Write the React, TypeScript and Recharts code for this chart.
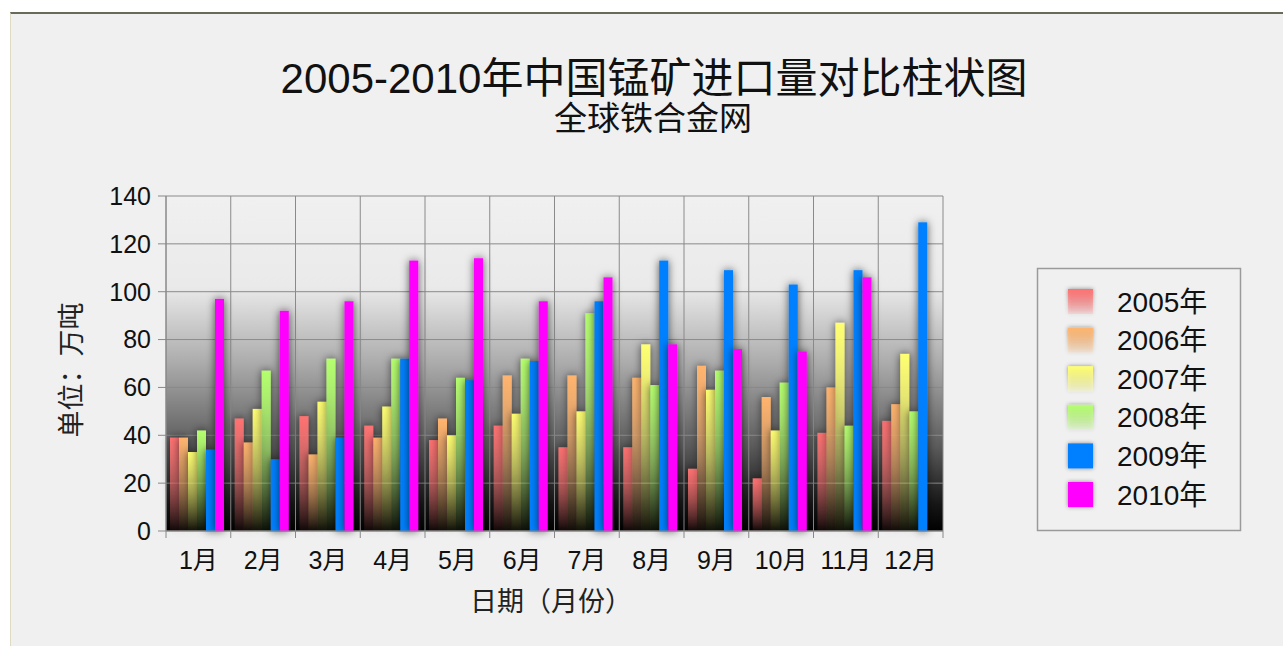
import React from 'react';
import { BarChart, Bar, XAxis, YAxis, CartesianGrid } from 'recharts';

const months = ['1月', '2月', '3月', '4月', '5月', '6月', '7月', '8月', '9月', '10月', '11月', '12月'];
const years = ['2005年', '2006年', '2007年', '2008年', '2009年', '2010年'];
const colors = ['#ff7272', '#ffb46e', '#ffff72', '#b4ff6e', '#0080ff', '#ff00ff'];
const gradientSeries = [true, true, true, true, false, false];
const s2005 = [39, 47, 48, 44, 38, 44, 35, 35, 26, 22, 41, 46];
const s2006 = [39, 37, 32, 39, 47, 65, 65, 64, 69, 56, 60, 53];
const s2007 = [33, 51, 54, 52, 40, 49, 50, 78, 59, 42, 87, 74];
const s2008 = [42, 67, 72, 72, 64, 72, 91, 61, 67, 62, 44, 50];
const s2009 = [34, 30, 39, 72, 63, 71, 96, 113, 109, 103, 109, 129];
const s2010 = [97, 92, 96, 113, 114, 96, 106, 78, 76, 75, 106, null];
const yTicks = [0, 20, 40, 60, 80, 100, 120, 140];

const seriesValues = [s2005, s2006, s2007, s2008, s2009, s2010];
const keys = ['y2005', 'y2006', 'y2007', 'y2008', 'y2009', 'y2010'];

const data = months.map((m, i) => {
  const row: any = { month: m };
  keys.forEach((k, j) => {
    row[k] = seriesValues[j][i];
  });
  return row;
});

const FONT = '"Liberation Sans", Arial, "Noto Sans CJK SC", sans-serif';

const BarShape = (props: any) => {
  const { x, y, width, height, fill } = props;
  if (!height || height <= 0) return null;
  return <rect x={x} y={y} width={width} height={height} fill={fill} filter="url(#barShadow)" />;
};

const MonthTick = (props: any) => {
  const { x, y, payload, index } = props;
  const half = payload && typeof payload.offset === 'number' ? payload.offset : 0;
  return (
    <g>
      {half > 0 && <line x1={x - half} y1={y - 20} x2={x - half} y2={y - 13} stroke="#888" />}
      {half > 0 && index === months.length - 1 && (
        <line x1={x + half} y1={y - 20} x2={x + half} y2={y - 13} stroke="#888" />
      )}
      <text x={x} y={y} dy="0.71em" textAnchor="middle" fontSize={25} fontFamily={FONT} fill="#111">
        {payload.value}
      </text>
    </g>
  );
};

export default function App() {
  return (
    <div style={{ position: 'absolute', left: 0, top: 0, width: 1283, height: 646, background: '#ffffff', overflow: 'hidden' }}>
      <svg width={0} height={0} style={{ position: 'absolute' }}>
        <defs>
          <linearGradient id="plotBg" x1="0" y1="0" x2="0" y2="1">
            <stop offset="0" stopColor="#f0f0f0" />
            <stop offset="0.27" stopColor="#eaeaea" />
            <stop offset="0.5" stopColor="#ababab" />
            <stop offset="0.75" stopColor="#5a5a5a" />
            <stop offset="0.92" stopColor="#161616" />
            <stop offset="1" stopColor="#000000" />
          </linearGradient>
          {colors.map((c, i) => (
            <linearGradient key={i} id={`barGrad${i}`} x1="0" y1="0" x2="0" y2="1">
              <stop offset="0" stopColor={c} stopOpacity={1} />
              <stop offset="0.5" stopColor={c} stopOpacity={0.55} />
              <stop offset="1" stopColor={c} stopOpacity={0.05} />
            </linearGradient>
          ))}
          {colors.map((c, i) => (
            <linearGradient key={'l' + i} id={`legGrad${i}`} x1="0" y1="0" x2="0" y2="1">
              <stop offset="0" stopColor={c} stopOpacity={1} />
              <stop offset="1" stopColor={c} stopOpacity={0.15} />
            </linearGradient>
          ))}
          <filter id="barShadow" filterUnits="userSpaceOnUse" x="0" y="0" width="1283" height="646">
            <feDropShadow dx="0" dy="0" stdDeviation="4" floodColor="#000" floodOpacity="0.65" />
          </filter>
          <filter id="legShadow" x="-40%" y="-40%" width="180%" height="180%">
            <feDropShadow dx="0" dy="0" stdDeviation="2" floodColor="#000" floodOpacity="0.45" />
          </filter>
        </defs>
      </svg>
      <div
        style={{
          position: 'absolute',
          left: 10,
          top: 12,
          right: 0,
          bottom: 0,
          background: '#f0f0f0',
          borderTop: '2px solid #6a6a58',
          borderLeft: '1px solid #dedac4',
        }}
      />
      <div style={{ position: 'absolute', left: 0, top: 0 }}>
        <BarChart
          width={1283}
          height={646}
          data={data}
          margin={{ top: 196, right: 340, bottom: 85, left: 106 }}
          barCategoryGap={4}
          barGap={0}
        >
          <CartesianGrid
            fill="url(#plotBg)"
            stroke="#8a8a8a"
            strokeWidth={1}
            verticalCoordinatesGenerator={({ offset }: any) =>
              months.map((_, i) => offset.left + (i * offset.width) / months.length).concat([offset.left + offset.width])
            }
          />
          <XAxis
            dataKey="month"
            height={30}
            tickLine={false}
            tickSize={0}
            tickMargin={20}
            interval={0}
            stroke="#888"
            tick={<MonthTick />}
          />
          <YAxis
            width={60}
            domain={[0, 140]}
            ticks={yTicks}
            interval={0}
            tickSize={8}
            tickMargin={7}
            stroke="#888"
            tick={{ fill: '#111', fontSize: 25, fontFamily: FONT }}
          />
          {keys.map((k, i) => (
            <Bar
              key={k}
              dataKey={k}
              name={years[i]}
              fill={gradientSeries[i] ? `url(#barGrad${i})` : colors[i]}
              isAnimationActive={false}
              shape={BarShape}
            />
          ))}
        </BarChart>
      </div>
      <svg width={1283} height={646} style={{ position: 'absolute', left: 0, top: 0, pointerEvents: 'none' }}>
        <text x={654} y={78} textAnchor="middle" dominantBaseline="central" fontSize={42} fontFamily={FONT} fill="#111">
          2005-2010年中国锰矿进口量对比柱状图
        </text>
        <text x={653} y={118} textAnchor="middle" dominantBaseline="central" fontSize={33} fontFamily={FONT} fill="#111">
          全球铁合金网
        </text>
        <text
          x={72}
          y={370}
          textAnchor="middle"
          dominantBaseline="central"
          fontSize={27}
          fontFamily={FONT}
          fill="#222"
          transform="rotate(-90 72 370)"
        >
          单位：万吨
        </text>
        <text x={551} y={602} textAnchor="middle" dominantBaseline="central" fontSize={27} fontFamily={FONT} fill="#222">
          日期（月份）
        </text>
        <rect x={1037.5} y={268.5} width={203} height={262} fill="#f0f0f0" stroke="#9a9a9a" strokeWidth={1.5} />
        {years.map((y, i) => (
          <g key={y}>
            <rect
              x={1068}
              y={289 + i * 38.6}
              width={25}
              height={25}
              fill={gradientSeries[i] ? `url(#legGrad${i})` : colors[i]}
              filter="url(#legShadow)"
            />
            <text x={1117} y={302 + i * 38.6} dominantBaseline="central" fontSize={28} fontFamily={FONT} fill="#111">
              {y}
            </text>
          </g>
        ))}
      </svg>
    </div>
  );
}
